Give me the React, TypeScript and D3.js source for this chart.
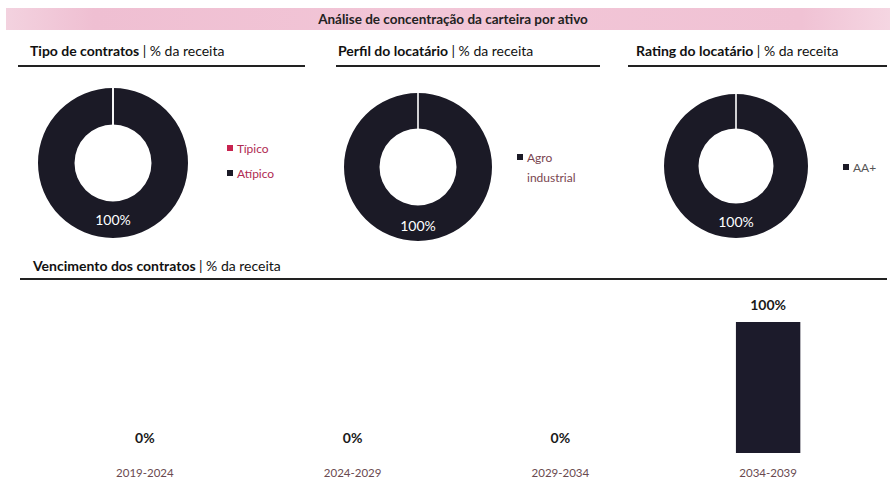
import React from "react";
import * as d3 from "d3";

const W = 890;
const H = 495;

const mainTitle = "Análise de concentração da carteira por ativo";
const donutTitles = ["Tipo de contratos", "Perfil do locatário", "Rating do locatário"];
const subTitle = "| % da receita";
const barTitle = "Vencimento dos contratos";

const tipoLabels = ["Típico", "Atípico"];
const tipoValues = [0, 100];
const tipoColors = ["#c8234f", "#1b1a26"];

const perfilLabels = ["Agro industrial"];
const perfilValues = [100];
const perfilColors = ["#1b1a26"];

const ratingLabels = ["AA+"];
const ratingValues = [100];
const ratingColors = ["#1b1a26"];

const periods = ["2019-2024", "2024-2029", "2029-2034", "2034-2039"];
const periodValues = [0, 0, 0, 100];

const FONT = "Lato, 'Open Sans', sans-serif";

type DonutSpec = {
  cx: number;
  cy: number;
  R: number;
  r: number;
  labels: string[];
  values: number[];
  colors: string[];
  legendX: number;
  legendY: number;
  legendLines?: string[][];
  legendColor: string;
  labelY: number;
};

function Donut({ s }: { s: DonutSpec }) {
  const pie = d3.pie<number>().sort(null).value((d) => d);
  const arcs = pie(s.values);
  const arc = d3.arc<d3.PieArcDatum<number>>().innerRadius(s.r).outerRadius(s.R);
  const total = d3.sum(s.values);
  const main = arcs.reduce((a, b) => (b.value > a.value ? b : a));
  return (
    <g>
      <g transform={`translate(${s.cx},${s.cy})`}>
        {arcs.map((a, i) => (
          <path key={i} d={arc(a) || ""} fill={s.colors[i]} />
        ))}
        {arcs.map((a, i) => {
          const ang = a.startAngle;
          const sx = Math.sin(ang), sy = -Math.cos(ang);
          return (
            <line
              key={"sep" + i}
              x1={sx * (s.r - 1)}
              y1={sy * (s.r - 1)}
              x2={sx * (s.R + 1)}
              y2={sy * (s.R + 1)}
              stroke="#ffffff"
              strokeWidth={1.6}
            />
          );
        })}
        <text
          x={0}
          y={s.labelY}
          textAnchor="middle"
          fill="#ffffff"
          fontFamily={FONT}
          fontSize={14}
        >
          {d3.format(".0%")(main.value / total)}
        </text>
      </g>
      {s.labels.map((lab, i) => {
        const lines = s.legendLines ? s.legendLines[i] : [lab];
        const y = s.legendY + i * 25;
        return (
          <g key={"lg" + i}>
            <rect x={s.legendX} y={y - 4} width={6} height={6} fill={s.colors[i]} />
            {lines.map((ln, j) => (
              <text
                key={j}
                x={s.legendX + 10}
                y={y + 4 + j * 20}
                fill={s.legendColor}
                fontFamily={FONT}
                fontSize={12}
              >
                {ln}
              </text>
            ))}
          </g>
        );
      })}
    </g>
  );
}

function Header({ x, y, title, x1, x2, lineY }: { x: number; y: number; title: string; x1: number; x2: number; lineY: number }) {
  return (
    <g>
      <text x={x} y={y} fontFamily={FONT} fontSize={14} fill="#111">
        <tspan fontWeight={700}>{title} </tspan>
        <tspan fontWeight={400}>{subTitle}</tspan>
      </text>
      <line x1={x1} x2={x2} y1={lineY} y2={lineY} stroke="#222" strokeWidth={2} />
    </g>
  );
}

export default function App() {
  const donuts: DonutSpec[] = [
    {
      cx: 113, cy: 163, R: 75, r: 38.5,
      labels: tipoLabels, values: tipoValues, colors: tipoColors,
      legendX: 227, legendY: 149, legendColor: "#b02a52", labelY: 62,
    },
    {
      cx: 418, cy: 167, R: 74, r: 38.5,
      labels: perfilLabels, values: perfilValues, colors: perfilColors,
      legendX: 517, legendY: 158, legendLines: [["Agro", "industrial"]], legendColor: "#7a4650", labelY: 64,
    },
    {
      cx: 736, cy: 166, R: 72, r: 37.5,
      labels: ratingLabels, values: ratingValues, colors: ratingColors,
      legendX: 843, legendY: 168, legendColor: "#555", labelY: 61,
    },
  ];

  const x = d3.scaleBand<string>().domain(periods).range([41, 872]).padding(0);
  const y = d3.scaleLinear().domain([0, 100]).range([453, 322]);
  const barW = x.bandwidth() * 0.31;
  const pct = (v: number) => d3.format(".0%")(v / 100);

  return (
    <svg width={W} height={H} style={{ position: "absolute", left: 0, top: 0, background: "#fff" }}>
      <defs>
        <linearGradient id="band" x1="0" x2="1" y1="0" y2="0">
          <stop offset="0" stopColor="#f3d2df" />
          <stop offset="0.1" stopColor="#efbfd2" />
          <stop offset="0.5" stopColor="#f2c6d7" />
          <stop offset="0.9" stopColor="#f0c2d4" />
          <stop offset="1" stopColor="#f5d6e2" />
        </linearGradient>
      </defs>
      <rect x={0} y={0} width={W} height={H} fill="#fff" />
      <rect x={6} y={8} width={884} height={22} fill="url(#band)" />
      <text x={453} y={24} textAnchor="middle" fontFamily={FONT} fontWeight={700} fontSize={13.5} fill="#222">
        {mainTitle}
      </text>

      <Header x={30} y={56} title={donutTitles[0]} x1={18} x2={305} lineY={66} />
      <Header x={338} y={56} title={donutTitles[1]} x1={336} x2={600} lineY={66} />
      <Header x={636} y={56} title={donutTitles[2]} x1={628} x2={887} lineY={66} />

      {donuts.map((s, i) => (
        <Donut key={i} s={s} />
      ))}

      <Header x={33} y={271} title={barTitle} x1={20} x2={887} lineY={279} />

      {periods.map((p, i) => {
        const v = periodValues[i];
        const cx = (x(p) as number) + x.bandwidth() / 2;
        return (
          <g key={p}>
            {v > 0 && (
              <rect x={cx - barW / 2} y={y(v)} width={barW} height={y(0) - y(v)} fill="#1c1b2b" />
            )}
            <text
              x={cx}
              y={y(v) - (v > 0 ? 12 : 10)}
              textAnchor="middle"
              fontFamily={FONT}
              fontWeight={700}
              fontSize={14}
              fill="#1a1a1a"
            >
              {pct(v)}
            </text>
            <text x={cx} y={477} textAnchor="middle" fontFamily={FONT} fontSize={11.5} fill="#6a4a50">
              {p}
            </text>
          </g>
        );
      })}
    </svg>
  );
}
